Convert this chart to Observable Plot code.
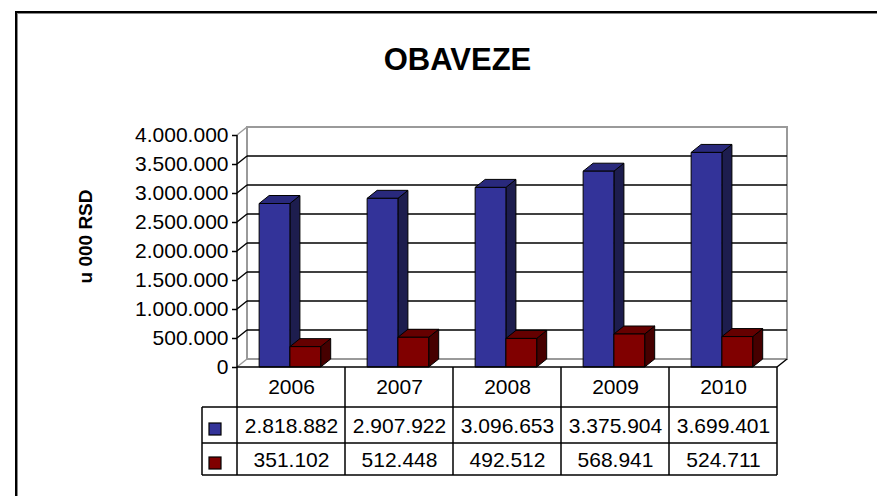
<!DOCTYPE html>
<html><head><meta charset="utf-8">
<script src="https://cdn.jsdelivr.net/npm/d3@7"></script>
<script src="https://cdn.jsdelivr.net/npm/@observablehq/plot@0.6"></script>
<style>body{margin:0;background:#fff}</style>
</head><body><div id="chart"></div>
<script>
// ---- data ----
const years = ["2006", "2007", "2008", "2009", "2010"];
const seriesBlue = [2818882, 2907922, 3096653, 3375904, 3699401];
const seriesRed = [351102, 512448, 492512, 568941, 524711];
const yTicks = [0, 500000, 1000000, 1500000, 2000000, 2500000, 3000000, 3500000, 4000000];
const chartTitle = "OBAVEZE";
const yLabel = "u 000 RSD";

const locale = d3.formatLocale({decimal: ",", thousands: ".", grouping: [3], currency: ["", ""]});
const fmt = locale.format(",d");

const rows = years.flatMap((year, i) => [
  {year, s: 0, value: seriesBlue[i]},
  {year, s: 1, value: seriesRed[i]}
]);

// ---- style ----
const DX = 10, DY = -8;
const palette = [
  {front: "#333399", top: "#29297c", side: "#1d1d4e"},
  {front: "#800000", top: "#650000", side: "#460000"}
];
const slots = [[0.205, 0.49], [0.49, 0.775]];
const wallGray = "#9a9a9a";

function backdrop(index, scales, values, dim) {
  const {y} = scales;
  const L = dim.marginLeft, R = dim.width - dim.marginRight, B = dim.height - dim.marginBottom;
  const top = y(yTicks[yTicks.length - 1]);
  const g = d3.create("svg:g");
  // outer frame
  g.append("rect").attr("x", 16).attr("y", 12).attr("width", dim.width).attr("height", dim.height)
    .attr("fill", "none").attr("stroke", "#000").attr("stroke-width", 2);
  g.append("rect").attr("x", 17.5).attr("y", 13.5).attr("width", dim.width).attr("height", dim.height)
    .attr("fill", "none").attr("stroke", "#888").attr("stroke-width", 1);
  // back wall
  g.append("rect").attr("x", L + DX).attr("y", top + DY).attr("width", R - L).attr("height", B - top)
    .attr("fill", "#fff").attr("stroke", wallGray).attr("stroke-width", 2);
  // gridlines on back wall
  for (const t of yTicks.slice(1, -1)) {
    g.append("line").attr("x1", L + DX).attr("x2", R + DX).attr("y1", y(t) + DY).attr("y2", y(t) + DY)
      .attr("stroke", "#000").attr("stroke-width", 1.5);
  }
  // diagonals on side wall
  yTicks.forEach((t, i) => {
    const edge = i === 0 || i === yTicks.length - 1;
    g.append("line").attr("x1", L).attr("y1", y(t)).attr("x2", L + DX).attr("y2", y(t) + DY)
      .attr("stroke", edge ? wallGray : "#000").attr("stroke-width", 1.5);
  });
  // floor right diagonal
  g.append("line").attr("x1", R).attr("y1", B).attr("x2", R + DX).attr("y2", B + DY)
    .attr("stroke", "#000").attr("stroke-width", 1.5);
  // front axis line
  g.append("line").attr("x1", L).attr("x2", L).attr("y1", top).attr("y2", B)
    .attr("stroke", "#000").attr("stroke-width", 1.5);
  return g.node();
}

function bars3d(index, scales, values, dim) {
  const {x, y} = scales;
  const bw = x.bandwidth();
  const g = d3.create("svg:g").attr("stroke", "#000").attr("stroke-width", 1).attr("stroke-linejoin", "round");
  for (const d of rows) {
    const c = palette[d.s];
    const x0 = x(d.year) + bw * slots[d.s][0];
    const x1 = x(d.year) + bw * slots[d.s][1];
    const yt = y(d.value), yb = y(0);
    g.append("polygon").attr("fill", c.side)
      .attr("points", [[x1, yt], [x1 + DX, yt + DY], [x1 + DX, yb + DY], [x1, yb]].join(" "));
    g.append("polygon").attr("fill", c.top)
      .attr("points", [[x0, yt], [x1, yt], [x1 + DX, yt + DY], [x0 + DX, yt + DY]].join(" "));
    g.append("rect").attr("fill", c.front).attr("x", x0).attr("y", yt).attr("width", x1 - x0).attr("height", yb - yt);
  }
  return g.node();
}

function tableGrid(index, scales, values, dim) {
  const {x} = scales;
  const bw = x.bandwidth();
  const L = dim.marginLeft, R = dim.width - dim.marginRight, B = dim.height - dim.marginBottom;
  const r1 = B + 40, r2 = B + 76, r3 = B + 108, left = L - 35;
  const g = d3.create("svg:g").attr("stroke", "#000").attr("stroke-width", 1.5).attr("fill", "none");
  const line = (a, b, c, d) => g.append("line").attr("x1", a).attr("y1", b).attr("x2", c).attr("y2", d);
  line(L, B, R, B);
  line(left, r1, R, r1);
  line(left, r2, R, r2);
  line(left, r3, R, r3);
  line(left, r1, left, r3);
  for (const yr of years) line(x(yr), B, x(yr), r3);
  line(x(years[years.length - 1]) + bw, B, x(years[years.length - 1]) + bw, r3);
  // legend keys
  [r1 + 22, r2 + 20].forEach((cy, i) => {
    g.append("rect").attr("x", left + 7).attr("y", cy - 6).attr("width", 12).attr("height", 12)
      .attr("fill", palette[i].front).attr("stroke-width", 1.2);
  });
  return g.node();
}

const chart = Plot.plot({
  width: 877,
  height: 496,
  marginLeft: 237,
  marginRight: 100,
  marginTop: 135,
  marginBottom: 129,
  x: {type: "band", domain: years, padding: 0, axis: null},
  y: {domain: [0, 4000000]},
  style: {fontFamily: "'Liberation Sans', Arial, sans-serif", fontSize: "21px", background: "#fff", color: "#000"},
  marks: [
    backdrop,
    Plot.axisY({ticks: yTicks, tickFormat: fmt, tickSize: 5, tickPadding: 4, fontSize: 21, label: null, strokeWidth: 1.5}),
    bars3d,
    tableGrid,
    Plot.text(years, {x: d => d, frameAnchor: "bottom", lineAnchor: "middle", dy: 20, fontSize: 21}),
    Plot.text(rows.filter(d => d.s === 0), {x: "year", text: d => fmt(d.value), frameAnchor: "bottom", lineAnchor: "middle", dy: 59, fontSize: 21}),
    Plot.text(rows.filter(d => d.s === 1), {x: "year", text: d => fmt(d.value), frameAnchor: "bottom", lineAnchor: "middle", dy: 93, fontSize: 21}),
    Plot.text([chartTitle], {frameAnchor: "top", lineAnchor: "middle", dx: -50, dy: -75, fontSize: 31, fontWeight: "bold"}),
    Plot.text([yLabel], {frameAnchor: "left", textAnchor: "middle", lineAnchor: "middle", rotate: -90, dx: -152, dy: -15, fontSize: 19, fontWeight: "bold"})
  ]
});
document.getElementById("chart").append(chart);
</script>
</body></html>
